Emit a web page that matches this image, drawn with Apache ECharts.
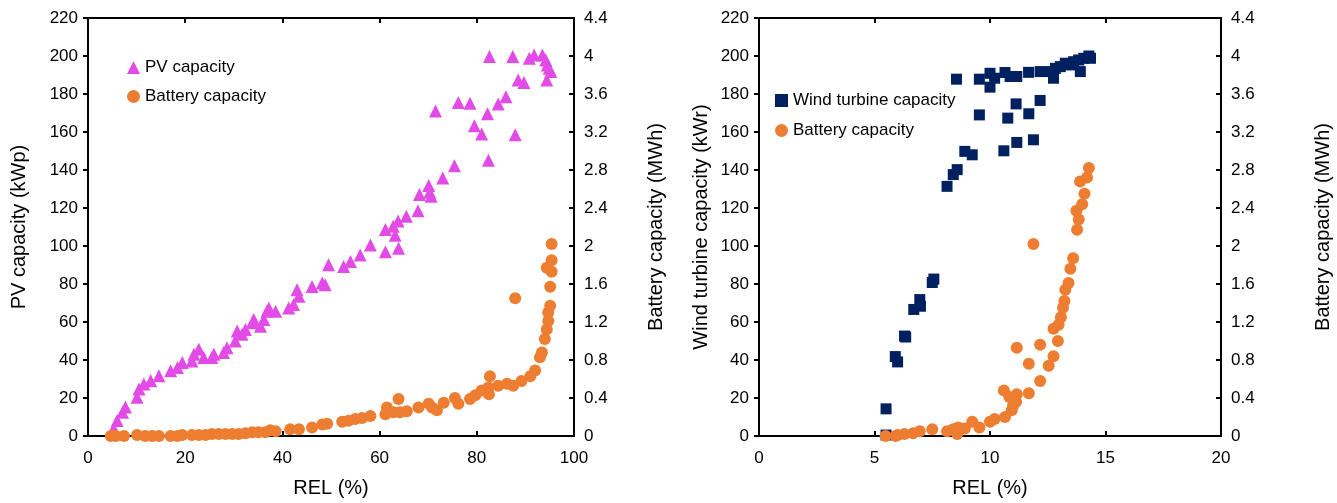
<!DOCTYPE html>
<html>
<head>
<meta charset="utf-8">
<script src="https://cdn.jsdelivr.net/npm/echarts@6.0.0/dist/echarts.min.js"></script>
<style>
html, body { margin: 0; padding: 0; background: #fff; }
#chart { width: 1337px; height: 503px; }
</style>
</head>
<body>
<div id="chart"></div>
<script>
// left panel: PV system, [REL %, kWp]
var pvCapacity = [
    [5.3, 3.8], [6.0, 8.2], [7.1, 12.5], [7.7, 15.2], [10.1, 20.4], [10.5, 24.7], [11.5, 27.4], [12.9, 29.1],
    [14.6, 31.7], [17.0, 34.3], [18.4, 36.1], [19.4, 38.7], [21.4, 39.5], [21.8, 43.0], [22.8, 45.6], [23.8, 41.3],
    [25.5, 41.3], [25.9, 43.0], [27.9, 43.9], [28.6, 46.5], [30.3, 50.0], [30.7, 55.2], [31.7, 53.5], [32.4, 56.1],
    [33.8, 59.6], [34.1, 61.3], [35.5, 57.8], [36.2, 61.3], [36.8, 65.7], [37.2, 67.4], [38.6, 65.7], [41.3, 67.4],
    [42.3, 69.2], [43.0, 77.0], [43.4, 73.5], [46.1, 78.7], [48.2, 80.5], [48.8, 79.6], [49.5, 90.1], [52.6, 89.2],
    [54.0, 91.8], [56.0, 95.3], [58.1, 100.5], [61.2, 97.0], [63.9, 98.8], [61.2, 108.7], [62.8, 110.4], [63.2, 105.6],
    [63.8, 113.1], [65.5, 115.7], [67.9, 118.6], [68.2, 127.1], [70.1, 131.8], [70.3, 128.3], [70.6, 126.2], [71.5, 171.1],
    [73.0, 135.8], [75.4, 142.3], [76.2, 175.5], [78.6, 175.1], [79.5, 163.3], [81.0, 158.9], [82.2, 169.6], [82.4, 145.1],
    [82.6, 199.7], [84.4, 174.8], [86.0, 178.6], [87.4, 199.7], [87.9, 158.5], [88.5, 187.4], [89.7, 186.0], [90.8, 198.8],
    [91.8, 200.5], [93.5, 200.5], [94.2, 197.9], [94.4, 187.4], [94.5, 195.3], [94.9, 193.5], [95.2, 191.8]
];

// left panel: battery, [REL %, MWh]
var batteryPv = [
    [4.7, 0], [5.7, 0], [7.4, 0], [10.1, 0.01], [11.8, 0], [13.2, 0], [14.6, 0], [17.0, 0], [18.4, 0], [19.4, 0.01],
    [21.4, 0.01], [22.8, 0.01], [24.2, 0.01], [25.5, 0.02], [26.9, 0.02], [28.3, 0.02], [29.7, 0.02], [31.0, 0.02],
    [32.4, 0.03], [33.8, 0.04], [35.1, 0.04], [36.5, 0.04], [37.5, 0.06], [38.6, 0.05], [41.6, 0.07], [43.4, 0.07],
    [46.1, 0.09], [48.2, 0.12], [49.2, 0.13], [52.3, 0.15], [53.6, 0.16], [55.0, 0.18], [56.4, 0.19], [58.1, 0.21],
    [61.2, 0.23], [61.5, 0.30], [62.9, 0.25], [64.2, 0.25], [63.9, 0.39], [65.6, 0.26], [68.0, 0.30], [70.1, 0.34],
    [70.8, 0.30], [71.8, 0.27], [73.2, 0.35], [75.5, 0.40], [76.2, 0.34], [78.6, 0.39], [79.7, 0.43], [81.0, 0.48],
    [82.4, 0.51], [82.5, 0.44], [82.7, 0.63], [84.4, 0.53], [86.2, 0.55], [87.5, 0.53], [89.2, 0.58], [91.0, 0.63],
    [92.0, 0.69], [93.0, 0.83], [93.4, 0.88], [94.0, 1.02], [94.4, 1.12], [94.7, 1.21], [94.7, 1.30], [95.1, 1.37],
    [95.1, 1.57], [94.4, 1.77], [95.4, 1.73], [95.4, 1.85], [95.4, 2.02], [87.9, 1.45]
];

// right panel: wind system, [REL %, kWr]
var windCapacity = [
    [5.5, 0.5], [5.5, 14.3], [5.9, 41.8], [6.0, 39.0], [6.3, 52.6], [6.35, 52.1], [6.7, 66.6], [6.96, 71.8],
    [6.99, 68.3], [7.5, 80.8], [7.57, 82.6], [8.14, 131.4], [8.41, 137.6], [8.58, 140.2], [8.91, 149.8], [9.23, 148.0],
    [8.55, 187.8], [9.54, 187.8], [10.0, 190.9], [10.0, 183.6], [10.2, 188.3], [10.65, 191.3], [10.87, 189.2],
    [11.16, 189.2], [11.13, 174.8], [9.54, 169.0], [10.77, 167.3], [11.68, 169.6], [12.17, 176.6], [10.6, 150.1],
    [11.16, 154.5], [11.88, 155.9], [11.67, 191.4], [12.17, 191.8], [12.6, 191.8], [12.75, 188.3], [12.83, 193.5],
    [13.04, 194.4], [13.26, 196.2], [13.48, 195.3], [13.62, 197.0], [13.84, 197.9], [13.91, 191.8], [14.06, 198.8],
    [14.28, 200.0], [14.35, 198.8]
];

// right panel: battery, [REL %, MWh]
var batteryWind = [
    [5.48, 0], [5.91, 0], [6.0, 0.01], [6.3, 0.02], [6.67, 0.03], [6.96, 0.05], [7.5, 0.07], [8.14, 0.05],
    [8.4, 0.07], [8.58, 0.02], [8.62, 0.09], [8.91, 0.08], [9.23, 0.15], [9.54, 0.09], [10.0, 0.15], [10.2, 0.18],
    [10.65, 0.20], [10.6, 0.48], [10.84, 0.41], [10.94, 0.27], [11.0, 0.32], [11.13, 0.36], [11.16, 0.44],
    [11.16, 0.93], [11.68, 0.76], [11.68, 0.45], [11.88, 2.02], [12.17, 0.96], [12.17, 0.58], [12.54, 0.74],
    [12.75, 0.84], [12.75, 1.13], [12.94, 1.0], [12.97, 1.17], [13.07, 1.25], [13.16, 1.35], [13.22, 1.42],
    [13.26, 1.54], [13.4, 1.61], [13.48, 1.76], [13.6, 1.87], [13.77, 2.17], [13.84, 2.28], [13.74, 2.37],
    [13.99, 2.44], [14.09, 2.55], [13.9, 2.68], [14.2, 2.72], [14.28, 2.82]
];

var font = 'Liberation Sans, Arial, sans-serif';
var lineStyle = { color: '#000', width: 2 };

function xAxisBottom(grid, max, interval) {
    return {
        type: 'value', gridIndex: grid, position: 'bottom', min: 0, max: max, interval: interval,
        name: 'REL (%)', nameLocation: 'middle', nameGap: 42,
        nameTextStyle: { fontFamily: font, fontSize: 20, color: '#000' },
        axisLine: { show: true, onZero: false, lineStyle: lineStyle },
        axisTick: { show: true, inside: true, length: 5, lineStyle: lineStyle },
        axisLabel: { fontFamily: font, fontSize: 17, color: '#000', margin: 14 },
        splitLine: { show: false }
    };
}

function xAxisTop(grid, max, interval) {
    return {
        type: 'value', gridIndex: grid, position: 'top', min: 0, max: max, interval: interval,
        axisLine: { show: true, onZero: false, lineStyle: lineStyle },
        axisTick: { show: true, inside: true, length: 5, lineStyle: lineStyle },
        axisLabel: { show: false },
        splitLine: { show: false }
    };
}

function yAxis(grid, pos, max, interval, name, gap) {
    return {
        type: 'value', gridIndex: grid, position: pos, min: 0, max: max, interval: interval,
        name: name, nameLocation: 'middle', nameGap: gap, nameRotate: 90,
        nameTextStyle: { fontFamily: font, fontSize: 20, color: '#000' },
        axisLine: { show: true, onZero: false, lineStyle: lineStyle },
        axisTick: { show: true, inside: pos === 'right', length: 5, lineStyle: lineStyle },
        axisLabel: { fontFamily: font, fontSize: 17, color: '#000', margin: 10 },
        splitLine: { show: false }
    };
}

var chart = echarts.init(document.getElementById('chart'));

chart.setOption({
    animation: false,
    backgroundColor: '#fff',
    grid: [
        { left: 88, top: 18, width: 486, height: 419 },
        { left: 759, top: 18, width: 462, height: 419 }
    ],
    legend: [
        {
            data: ['PV capacity', 'Battery capacity'],
            orient: 'vertical', left: 122, top: 54,
            itemWidth: 13, itemHeight: 13, itemGap: 12,
            textStyle: { fontFamily: font, fontSize: 17, color: '#000' }
        },
        {
            data: ['Wind turbine capacity', 'Battery capacity'],
            orient: 'vertical', left: 770, top: 87,
            itemWidth: 13, itemHeight: 13, itemGap: 13,
            textStyle: { fontFamily: font, fontSize: 17, color: '#000' }
        }
    ],
    xAxis: [
        xAxisBottom(0, 100, 20),
        xAxisTop(0, 100, 20),
        xAxisBottom(1, 20, 5),
        xAxisTop(1, 20, 5)
    ],
    yAxis: [
        yAxis(0, 'left', 220, 20, 'PV capacity (kWp)', 59),
        yAxis(0, 'right', 4.4, 0.4, 'Battery capacity (MWh)', 72),
        yAxis(1, 'left', 220, 20, 'Wind turbine capacity (kWr)', 48),
        yAxis(1, 'right', 4.4, 0.4, 'Battery capacity (MWh)', 92)
    ],
    series: [
        {
            name: 'PV capacity', type: 'scatter', xAxisIndex: 0, yAxisIndex: 0,
            symbol: 'triangle', symbolSize: 13,
            itemStyle: { color: '#e24be6', opacity: 1 },
            data: pvCapacity
        },
        {
            name: 'Battery capacity', type: 'scatter', xAxisIndex: 0, yAxisIndex: 1,
            symbol: 'circle', symbolSize: 12,
            itemStyle: { color: '#ed7d31', opacity: 1 },
            data: batteryPv
        },
        {
            name: 'Wind turbine capacity', type: 'scatter', xAxisIndex: 2, yAxisIndex: 2,
            symbol: 'rect', symbolSize: 11,
            itemStyle: { color: '#002060', opacity: 1 },
            data: windCapacity
        },
        {
            name: 'Battery capacity', type: 'scatter', xAxisIndex: 2, yAxisIndex: 3,
            symbol: 'circle', symbolSize: 12,
            itemStyle: { color: '#ed7d31', opacity: 1 },
            data: batteryWind
        }
    ]
});
</script>
</body>
</html>
